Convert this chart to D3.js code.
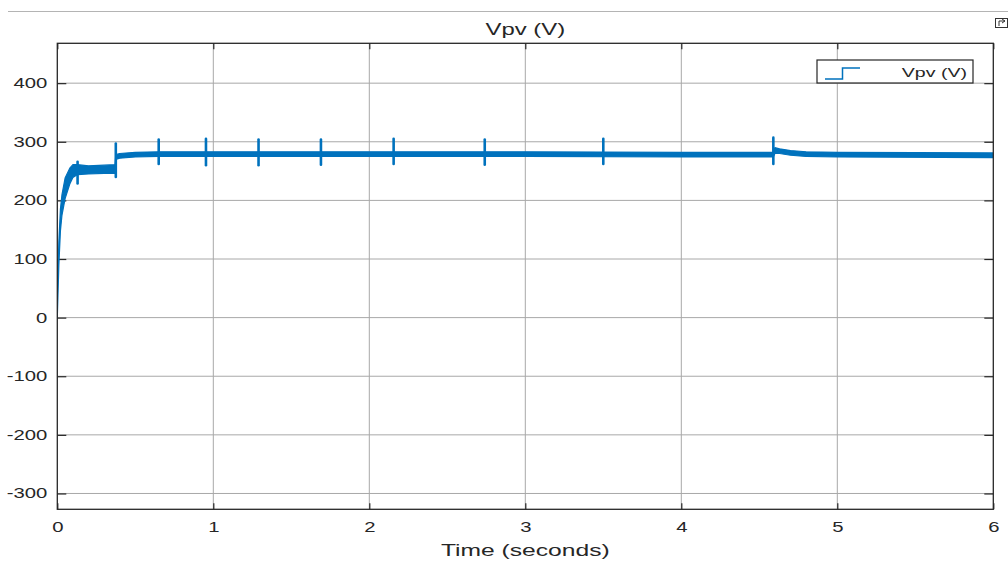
<!DOCTYPE html>
<html>
<head>
<meta charset="utf-8">
<script src="https://cdn.jsdelivr.net/npm/d3@7"></script>
<style>
  body { margin: 0; background: #fff; }
  text { font-family: "Liberation Sans", Arial, sans-serif; fill: #262626; }
</style>
</head>
<body>
<div id="container"></div>
<script>
// envelope of the noisy Vpv trace
var times = [0, 0.005, 0.01, 0.02, 0.03, 0.05, 0.08, 0.1, 0.13, 0.2, 0.3, 0.37, 0.375, 0.4, 0.5, 0.65, 1, 2, 3, 4, 4.59, 4.6, 4.63, 4.7, 4.8, 5, 6];
var upper = [0, 85, 130, 185, 210, 238, 255, 261, 261, 259, 260, 261, 278, 280, 282, 283, 283, 283, 283, 282, 282, 290, 288, 285, 283, 282, 281];
var lower = [0, 45, 90, 148, 175, 203, 228, 239, 244, 245, 246, 246, 270, 272, 274, 275, 275, 275, 275, 274, 274, 280, 280, 277, 275, 274, 273];

// switching transients
var spikeT  = [0.13, 0.375, 0.65, 0.953, 1.29, 1.69, 2.156, 2.74, 3.5, 4.59];
var spikeHi = [266, 297, 304, 305, 304, 304, 305, 304, 305, 307];
var spikeLo = [229, 240, 262, 260, 260, 261, 262, 261, 262, 262];

var xTicks = [0, 1, 2, 3, 4, 5, 6];
var yTicks = [-300, -200, -100, 0, 100, 200, 300, 400];

var W = 1008, H = 561;
var pLeft = 57.3, pRight = 993.3, pTop = 43.3, pBottom = 509.3;
var blue = "#0072BD";
var k = 1.45; // the screenshot is stretched sideways, so is the text

var svg = d3.select('#container').append('svg')
  .attr('width', W).attr('height', H);

var x = d3.scaleLinear().domain([0, 6]).range([pLeft, pRight]);
var y = d3.scaleLinear().domain([-327, 468]).range([pBottom, pTop]);

function label(px, py, anchor, size, str) {
  return svg.append('text')
    .attr('transform', 'translate(' + px + ',' + py + ') scale(' + k + ',1)')
    .attr('text-anchor', anchor).style('font-size', size + 'px').text(str);
}
function stretchTicks(g) {
  g.selectAll('text').each(function() {
    var t = d3.select(this);
    t.attr('x', (+t.attr('x') || 0) / k).attr('transform', 'scale(' + k + ',1)');
  });
}

// figure header strip
svg.append('line').attr('x1', 8).attr('x2', W).attr('y1', 11.5).attr('y2', 11.5)
  .attr('stroke', '#b4b4b4').attr('stroke-width', 1.2);
var ic = svg.append('g').attr('transform', 'translate(995,18)');
ic.append('rect').attr('x', 0.5).attr('y', 0.5).attr('width', 12).attr('height', 9)
  .attr('fill', 'none').attr('stroke', '#333').attr('stroke-width', 1);
ic.append('path').attr('d', 'M4,8 L4,3 L10,3 M7,1 L10,3 L7,5')
  .attr('fill', 'none').attr('stroke', '#333').attr('stroke-width', 1);

// grid
var grid = svg.append('g');
grid.selectAll('.gx').data(xTicks.slice(1, -1)).enter().append('line')
  .attr('x1', function(d) { return x(d); }).attr('x2', function(d) { return x(d); })
  .attr('y1', pTop).attr('y2', pBottom)
  .attr('stroke', '#a8a8a8').attr('stroke-width', 1);
grid.selectAll('.gy').data(yTicks).enter().append('line')
  .attr('x1', pLeft).attr('x2', pRight)
  .attr('y1', function(d) { return y(d); }).attr('y2', function(d) { return y(d); })
  .attr('stroke', '#a8a8a8').attr('stroke-width', 1);

// axes, MATLAB style: inward ticks on all four sides
svg.append('g').attr('transform', 'translate(0,' + pBottom + ')')
  .call(d3.axisBottom(x).tickValues(xTicks).tickSize(-6).tickPadding(13).tickFormat(String))
  .call(function(g) { g.select('.domain').remove(); g.selectAll('text').style('font-size', '14px'); })
  .call(stretchTicks);
svg.append('g').attr('transform', 'translate(0,' + pTop + ')')
  .call(d3.axisTop(x).tickValues(xTicks).tickSize(-6).tickFormat(''))
  .call(function(g) { g.select('.domain').remove(); });
svg.append('g').attr('transform', 'translate(' + pLeft + ',0)')
  .call(d3.axisLeft(y).tickValues(yTicks).tickSize(-9).tickPadding(10).tickFormat(String))
  .call(function(g) { g.select('.domain').remove(); g.selectAll('text').style('font-size', '14px'); })
  .call(stretchTicks);
svg.append('g').attr('transform', 'translate(' + pRight + ',0)')
  .call(d3.axisRight(y).tickValues(yTicks).tickSize(-9).tickFormat(''))
  .call(function(g) { g.select('.domain').remove(); });
svg.selectAll('.tick line').attr('stroke', '#262626').attr('stroke-width', 1.2);
svg.selectAll('.tick text').attr('fill', '#303030');

// data
svg.append('clipPath').attr('id', 'clip').append('rect')
  .attr('x', pLeft).attr('y', pTop).attr('width', pRight - pLeft).attr('height', pBottom - pTop);
var plot = svg.append('g').attr('clip-path', 'url(#clip)');

var band = times.map(function(t, i) { return { t: t, hi: upper[i], lo: lower[i] }; });
var area = d3.area()
  .x(function(d) { return x(d.t); })
  .y0(function(d) { return y(d.lo); })
  .y1(function(d) { return y(d.hi); });
plot.append('path').datum(band).attr('d', area)
  .attr('fill', blue).attr('stroke', blue).attr('stroke-width', 1.2).attr('stroke-linejoin', 'round');

plot.selectAll('.spike').data(spikeT).enter().append('line')
  .attr('x1', function(d) { return x(d); }).attr('x2', function(d) { return x(d); })
  .attr('y1', function(d, i) { return y(spikeHi[i]); })
  .attr('y2', function(d, i) { return y(spikeLo[i]); })
  .attr('stroke', blue).attr('stroke-width', 2.6).attr('stroke-linecap', 'round');

// box
svg.append('rect').attr('x', pLeft).attr('y', pTop).attr('width', pRight - pLeft).attr('height', pBottom - pTop)
  .attr('fill', 'none').attr('stroke', '#262626').attr('stroke-width', 1.3);

// titles
label((pLeft + pRight) / 2, 35, 'middle', 16.5, 'Vpv (V)');
label((pLeft + pRight) / 2, 556, 'middle', 17, 'Time (seconds)');

// legend
var lg = svg.append('g');
lg.append('rect').attr('x', 817).attr('y', 60).attr('width', 156).attr('height', 23)
  .attr('fill', '#fff').attr('stroke', '#262626').attr('stroke-width', 1.2);
lg.append('path').attr('d', 'M825,79 L842.5,79 L842.5,68 L860,68')
  .attr('fill', 'none').attr('stroke', blue).attr('stroke-width', 1.5);
label(967, 77, 'end', 13.5, 'Vpv (V)');
</script>
</body>
</html>
